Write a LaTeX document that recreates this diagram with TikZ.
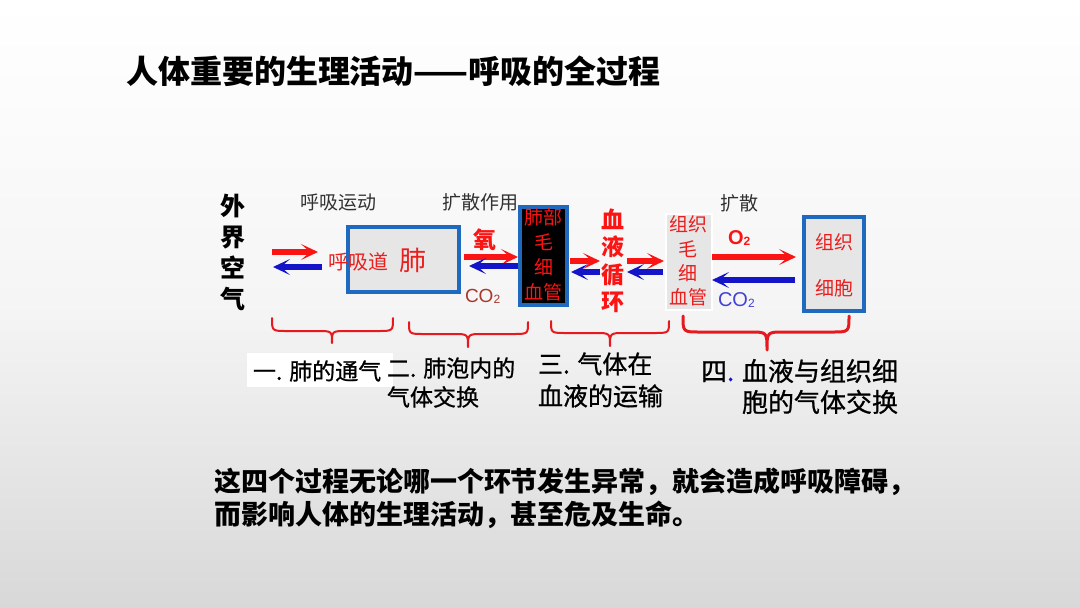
\documentclass[tikz,border=0pt]{standalone}
\usepackage{fontspec}
\setmainfont{Noto Sans CJK SC}
\newfontfamily\cjkmid[FakeBold=0.8]{Noto Sans CJK SC}
\newfontfamily\lat{Liberation Sans}
\usetikzlibrary{arrows.meta}
\definecolor{bluebd}{RGB}{31,106,190}
\definecolor{myred}{RGB}{250,20,20}
\definecolor{myblue}{RGB}{20,20,200}
\definecolor{txtred}{RGB}{235,30,30}
\definecolor{brred}{RGB}{170,55,45}
\definecolor{bracered}{RGB}{230,25,30}
\definecolor{lblgray}{RGB}{50,50,50}
\definecolor{boxfill}{RGB}{230,230,230}
\newcommand\fsz[2]{\fontsize{#1}{#2}\selectfont}
\tikzset{
  txt/.style={inner sep=0pt, outer sep=0pt},
  redarr/.style={draw=myred, line width=5.5pt, -{Stealth[length=17pt, width=16pt, inset=9pt]}},
  bluearr/.style={draw=myblue, line width=5.5pt, -{Stealth[length=17pt, width=16pt, inset=9pt]}},
  bluebox/.style={draw=bluebd, line width=4pt, fill=boxfill, inner sep=0pt},
  bracepath/.style={draw=bracered, line width=2pt, line cap=round, line join=round},
}
\begin{document}
\begin{tikzpicture}[x=1pt,y=-1pt]
\useasboundingbox (0,0) rectangle (1080,608);
\shade[top color=white, bottom color={rgb,255:red,216;green,216;blue,216}, middle color={rgb,255:red,245;green,245;blue,245}] (0,0) rectangle (1080,608);

% title
\node[txt, anchor=west, font=\fsz{32}{32}\bfseries] (title) at (126,71) {人体重要的生理活动——呼吸的全过程};

% left vertical label
\node[txt, align=center, font=\fsz{25}{31}\bfseries] (air) at (233,252) {外\\界\\空\\气};

% top labels
\node[txt, text=lblgray, font=\fsz{19}{19}] (lab1) at (338.5,202) {呼吸运动};
\node[txt, text=lblgray, font=\fsz{19}{19}] (lab2) at (480,202) {扩散作用};
\node[txt, text=lblgray, font=\fsz{19}{19}] (lab3) at (739,203) {扩散};

% lung box
\node[bluebox, minimum width=111pt, minimum height=65pt] (lung) at (403.5,259.5) {};
\node[txt, text=txtred, font=\fsz{20}{20}] (airway) at (358.5,262) {呼吸道};
\node[txt, text=txtred, font=\fsz{27}{27}] (lungt) at (412.5,260) {肺};

% lung capillary box
\node[draw=bluebd, line width=4pt, fill=black, inner sep=0pt, minimum width=47pt, minimum height=98pt] (capL) at (543.5,256) {};
\node[txt, text=myred, align=center, font=\fsz{19}{25}] (capLt) at (543.5,255) {肺部\\毛\\细\\血管};

% blood circulation
\node[txt, text=myred, align=center, font=\fsz{23}{27.5}\bfseries] (blood) at (613,261) {血\\液\\循\\环};

% tissue capillary
\node[draw=white, line width=2pt, fill=boxfill, inner sep=0pt, minimum width=46pt, minimum height=96pt] (capT) at (688.5,261.5) {};
\node[txt, text=txtred, align=center, font=\fsz{19}{24.3}] (capTt) at (688,261) {组织\\毛\\细\\血管};

% tissue cell box
\node[bluebox, minimum width=60pt, minimum height=94pt] (cell) at (834,264) {};
\node[txt, text=txtred, align=center, font=\fsz{19}{46}] (cellt) at (834,265) {组织\\细胞};

% gas labels
\node[txt, text=myred, font=\fsz{23}{23}\bfseries] (oxy) at (485,240) {氧};
\node[txt, text=brred, font=\fsz{19}{19}\lat, anchor=west] (co2a) at (465,296) {CO\raisebox{-1pt}{\fsz{12}{12}2}};
\node[txt, text=myred, font=\fsz{20}{20}\lat\bfseries, anchor=west] (o2) at (728,238) {O\raisebox{-1pt}{\fsz{12}{12}2}};
\node[txt, text=myblue!80!white, font=\fsz{20}{20}\lat, anchor=west] (co2b) at (718,300) {CO\raisebox{-1pt}{\fsz{12}{12}2}};

% arrow end points
\coordinate (a1s) at (272,252); \coordinate (a1e) at (318,252);
\coordinate (b1s) at (322,267); \coordinate (b1e) at (273,267);
\coordinate (a2s) at (464,257); \coordinate (a2e) at (518,257);
\coordinate (b2s) at (518,266); \coordinate (b2e) at (469,266);
\coordinate (a3s) at (570,261); \coordinate (a3e) at (600,261);
\coordinate (b3s) at (600,272); \coordinate (b3e) at (571,272);
\coordinate (a4s) at (627,261); \coordinate (a4e) at (664,261);
\coordinate (b4s) at (663,272); \coordinate (b4e) at (627,272);
\coordinate (a5s) at (712,257); \coordinate (a5e) at (796,257);
\coordinate (b5s) at (795,280); \coordinate (b5e) at (712,280);

\draw[redarr] (a1s) -- (a1e);
\draw[bluearr] (b1s) -- (b1e);
\draw[redarr] (a2s) -- (a2e);
\draw[bluearr] (b2s) -- (b2e);
\draw[redarr] (a3s) -- (a3e);
\draw[bluearr] (b3s) -- (b3e);
\draw[redarr] (a4s) -- (a4e);
\draw[bluearr] (b4s) -- (b4e);
\draw[redarr] (a5s) -- (a5e);
\draw[bluearr] (b5s) -- (b5e);

% braces
\draw[bracepath] (272,318) .. controls (272,331) .. (287,331) -- (317,331) .. controls (332,331) .. (332,343) .. controls (332,331) .. (347,331) -- (378,331) .. controls (393,331) .. (393,318);
\draw[bracepath] (409,322) .. controls (409,334) .. (424,334) -- (453,334) .. controls (468,334) .. (468,347) .. controls (468,334) .. (483,334) -- (513,334) .. controls (528,334) .. (528,322);
\draw[bracepath] (551,321) .. controls (551,333) .. (566,333) -- (595,333) .. controls (610,333) .. (610,346) .. controls (610,333) .. (625,333) -- (654,333) .. controls (669,333) .. (669,321);
\draw[bracepath, line width=3pt] (683,316) .. controls (683,332) .. (700,332) -- (750,332) .. controls (767,332) .. (767,350) .. controls (767,332) .. (784,332) -- (832,332) .. controls (849,332) .. (849,316);

% stage labels
\node[fill=white, inner sep=0pt, minimum width=146pt, minimum height=34pt] (s1bg) at (320,370) {};
\node[txt, anchor=west, font=\fsz{23}{23}\cjkmid] (s1) at (253,371) {一. 肺的通气};
\node[txt, anchor=west, align=left, font=\fsz{23}{29}\cjkmid] (s2) at (387,382.5) {二. 肺泡内的\\气体交换};
\node[txt, anchor=west, align=left, font=\fsz{25}{32}\cjkmid] (s3) at (538,380) {三. 气体在\\血液的运输};
\node[txt, anchor=east, align=right, font=\fsz{26}{31}\cjkmid] (s4) at (898,386.5) {四{\color{myblue}.} 血液与组织细\\胞的气体交换};

% bottom text
\node[txt, anchor=west, align=left, font=\fsz{27}{33}\bfseries] (note) at (214,498.5) {这四个过程无论哪一个环节发生异常，就会造成呼吸障碍，\\而影响人体的生理活动，甚至危及生命。};
\end{tikzpicture}
\end{document}
